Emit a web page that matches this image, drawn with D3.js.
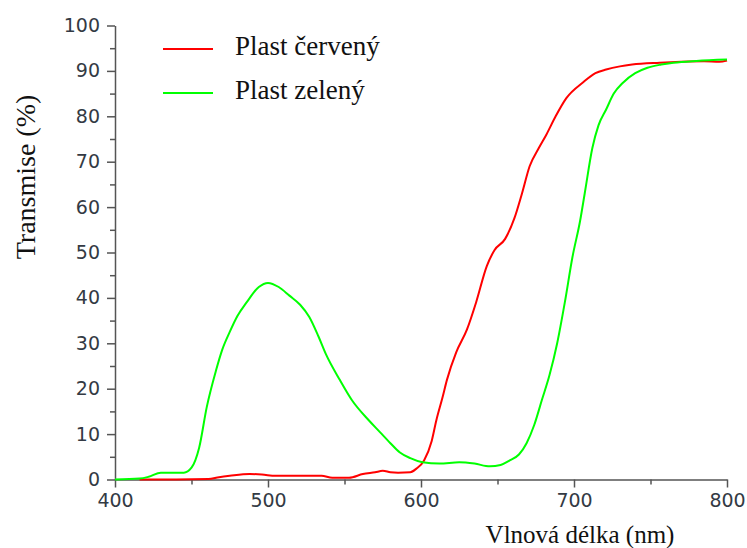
<!DOCTYPE html>
<html>
<head>
<meta charset="utf-8">
<script src="https://cdn.jsdelivr.net/npm/d3@7"></script>
<style>
  body { margin: 0; background: #fff; }
  svg { display: block; }
</style>
</head>
<body>
<svg id="chart" width="747" height="548"></svg>
<script>
// Transmission spectra of two coloured plastics (wavelength in nm, transmission in %)
const redWavelengths = [416, 440, 461, 468, 475, 488, 496, 505, 535, 542, 553, 562, 570, 575, 580, 585, 593, 597, 602, 607, 610, 614, 617, 623, 630, 636, 643, 648, 655, 661, 666, 671, 677, 682, 688, 695, 706, 714, 721, 730, 738, 756, 770, 785, 795, 800];
const redValues      = [0, 0, 0.1, 0.5, 0.8, 1.2, 1.1, 0.8, 0.8, 0.4, 0.4, 1.2, 1.6, 1.9, 1.6, 1.5, 1.6, 2.4, 4.2, 8.5, 13, 18, 22, 28, 33, 39, 47, 50.5, 53, 57.5, 63, 69, 73, 76, 80, 84, 87.5, 89.5, 90.3, 91, 91.4, 91.8, 92, 92.1, 92, 92.3];

const greenWavelengths = [400, 416, 422, 430, 445, 450, 455, 460, 466, 470, 475, 480, 486, 494, 500, 507, 514, 521, 527, 533, 538, 547, 555, 566, 573, 580, 586, 593, 601, 612, 625, 635, 645, 652, 658, 664, 669, 674, 679, 684, 689, 694, 699, 704, 707, 712, 716, 721, 726, 732, 740, 748, 757, 765, 780, 800];
const greenValues      = [0, 0.2, 0.6, 1.5, 1.5, 2.6, 7, 16, 24, 28.5, 32.5, 36, 39, 42.4, 43.3, 42.4, 40.5, 38.5, 35.8, 31.5, 27.5, 21.9, 17.4, 13, 10.5, 8, 6, 4.7, 3.8, 3.5, 3.8, 3.5, 2.9, 3.2, 4.2, 5.5, 8, 12, 17.5, 23, 30, 39, 49, 57, 63, 73, 78, 81.5, 85, 87.4, 89.5, 90.7, 91.4, 91.8, 92.2, 92.5];

const seriesNames  = ["Plast červený", "Plast zelený"];
const seriesColors = ["#ff0000", "#00ff00"];

const xMajorTicks = [400, 500, 600, 700, 800];
const xMinorTicks = [450, 550, 650, 750];
const yMajorTicks = [0, 10, 20, 30, 40, 50, 60, 70, 80, 90, 100];
const yMinorTicks = [5, 15, 25, 35, 45, 55, 65, 75, 85, 95];

const xTitle = "Vlnová délka (nm)";
const yTitle = "Transmise (%)";

const svg = d3.select("#chart");

const x = d3.scaleLinear().domain([400, 800]).range([115, 727]);
const y = d3.scaleLinear().domain([0, 100]).range([479.5, 25.5]);

const axisColor = "#555";
const labelColor = "#333a44";

function styleAxis(g) {
  g.selectAll(".domain").attr("stroke", axisColor).attr("stroke-width", 1.5);
  g.selectAll(".tick line").attr("stroke", axisColor).attr("stroke-width", 1.5);
  g.selectAll(".tick text")
    .attr("fill", labelColor)
    .style("font-family", "'DejaVu Sans', sans-serif")
    .style("font-size", "19px");
}

// Minor ticks
svg.append("g")
  .attr("transform", `translate(0,${y(0)})`)
  .call(d3.axisBottom(x).tickValues(xMinorTicks).tickSize(5).tickFormat(""))
  .call(g => g.select(".domain").remove())
  .call(styleAxis);
svg.append("g")
  .attr("transform", `translate(${x(400)},0)`)
  .call(d3.axisLeft(y).tickValues(yMinorTicks).tickSize(5).tickFormat(""))
  .call(g => g.select(".domain").remove())
  .call(styleAxis);

// Major axes
svg.append("g")
  .attr("transform", `translate(0,${y(0)})`)
  .call(d3.axisBottom(x).tickValues(xMajorTicks).tickSize(8).tickSizeOuter(0).tickPadding(6).tickFormat(d3.format("d")))
  .call(styleAxis);
svg.append("g")
  .attr("transform", `translate(${x(400)},0)`)
  .call(d3.axisLeft(y).tickValues(yMajorTicks).tickSize(8).tickSizeOuter(0).tickPadding(7).tickFormat(d3.format("d")))
  .call(styleAxis);

// Axis titles
svg.append("text")
  .attr("x", 580).attr("y", 543)
  .attr("text-anchor", "middle")
  .style("font-family", "'Liberation Serif', 'Times New Roman', serif")
  .style("font-size", "25px")
  .attr("fill", "#111")
  .text(xTitle);
svg.append("text")
  .attr("transform", "translate(35,177) rotate(-90)")
  .attr("text-anchor", "middle")
  .style("font-family", "'Liberation Serif', 'Times New Roman', serif")
  .style("font-size", "28px")
  .attr("fill", "#111")
  .text(yTitle);

// Spectra
const redData = redWavelengths.map((w, i) => [w, redValues[i]]);
const greenData = greenWavelengths.map((w, i) => [w, greenValues[i]]);

const line = d3.line()
  .x(d => x(d[0]))
  .y(d => y(d[1]))
  .curve(d3.curveMonotoneX);

[redData, greenData].forEach((data, i) => {
  svg.append("path")
    .datum(data)
    .attr("fill", "none")
    .attr("stroke", seriesColors[i])
    .attr("stroke-width", 2)
    .attr("stroke-linejoin", "round")
    .attr("d", line);
});

// Legend
const legend = svg.append("g");
seriesNames.forEach((name, i) => {
  const ly = 49 + i * 44;
  legend.append("line")
    .attr("x1", 163).attr("x2", 213)
    .attr("y1", ly).attr("y2", ly)
    .attr("stroke", seriesColors[i])
    .attr("stroke-width", 2);
  legend.append("text")
    .attr("x", 235).attr("y", ly + 6)
    .style("font-family", "'Liberation Serif', 'Times New Roman', serif")
    .style("font-size", "27px")
    .attr("fill", "#111")
    .text(name);
});
</script>
</body>
</html>
